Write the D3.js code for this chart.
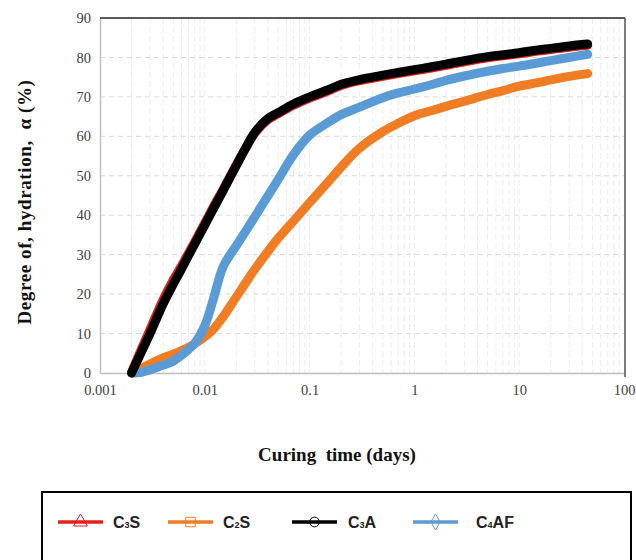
<!DOCTYPE html>
<html>
<head>
<meta charset="utf-8">
<script src="https://cdn.jsdelivr.net/npm/d3@7"></script>
<style>
  html, body { margin: 0; padding: 0; background: #fff; }
  svg { display: block; }
</style>
</head>
<body>
<svg id="chart" width="636" height="560"></svg>
<script>
// Curing time (days) at which the degree of hydration was evaluated
const times = [0.002, 0.0025, 0.003, 0.004, 0.005, 0.006, 0.007, 0.008, 0.01, 0.012,
  0.015, 0.02, 0.025, 0.03, 0.04, 0.05, 0.07, 0.1, 0.15, 0.2,
  0.3, 0.5, 0.7, 1, 1.5, 2, 3, 5, 7, 10,
  15, 20, 30, 45];

// Degree of hydration (%) of each clinker phase
const c3s = [0.2, 6.2, 11, 18.6, 23.6, 27.2, 30.4, 33.2, 38, 42,
  46.6, 52.8, 57.4, 60.8, 64.2, 65.7, 67.9, 69.7, 71.5, 72.9,
  74.1, 75.2, 75.9, 76.6, 77.4, 78, 78.9, 79.9, 80.4, 80.9,
  81.6, 82, 82.6, 83.1];
const c2s = [0, 1.2, 2.3, 3.8, 4.8, 5.7, 6.5, 7.4, 9.2, 11,
  14.3, 19.3, 23.2, 26.3, 30.8, 34.1, 38.5, 43.2, 48.4, 52.2,
  57, 61.2, 63.3, 65.2, 66.6, 67.6, 68.9, 70.6, 71.6, 72.7,
  73.6, 74.3, 75.2, 75.9];
const c3a = [0, 5.5, 10, 17.5, 22.5, 26.4, 29.8, 32.7, 37.5, 41.5,
  46.3, 52.6, 57.4, 61, 64.5, 66, 68.2, 70, 71.8, 73.2,
  74.4, 75.5, 76.2, 76.9, 77.7, 78.3, 79.2, 80.2, 80.7, 81.2,
  81.9, 82.3, 82.9, 83.4];
const c4af = [0, 0.2, 0.8, 2, 3, 4.5, 6, 7.5, 12, 18.5,
  27, 32.3, 36.3, 39.6, 44.9, 49, 55.3, 60.3, 63.5, 65.5,
  67.4, 69.8, 71, 72, 73.2, 74.2, 75.3, 76.5, 77.2, 77.8,
  78.6, 79.2, 80, 80.8];

// Series names and colours (legend order)
const seriesNames = ["C3S", "C2S", "C3A", "C4AF"];
const seriesColors = ["#e3211c", "#f07d24", "#000000", "#5b9bd5"];
const seriesMarkers = ["triangle", "square", "circle", "diamond"];

// Axis ticks
const xTicks = [0.001, 0.01, 0.1, 1, 10, 100];
const xTickLabels = ["0.001", "0.01", "0.1", "1", "10", "100"];
const yTicks = [0, 10, 20, 30, 40, 50, 60, 70, 80, 90];

const svg = d3.select("#chart");
const plot = { left: 100, right: 624, top: 18, bottom: 373 };

const x = d3.scaleLog().domain([0.001, 100]).range([plot.left, plot.right]);
const y = d3.scaleLinear().domain([0, 90]).range([plot.bottom, plot.top]);

// Vertical grid at every log tick (minor and major)
const gridX = x.ticks(50).filter(t => t > 0.001 && t < 100);
svg.append("g")
  .selectAll("line")
  .data(gridX)
  .join("line")
  .attr("x1", d => x(d)).attr("x2", d => x(d))
  .attr("y1", plot.top).attr("y2", plot.bottom)
  .attr("stroke", "#ededed")
  .attr("stroke-width", 1)
  .attr("stroke-dasharray", "6,3");

// Horizontal grid
svg.append("g")
  .selectAll("line")
  .data(yTicks.filter(t => t > 0 && t < 90))
  .join("line")
  .attr("x1", plot.left).attr("x2", plot.right)
  .attr("y1", d => y(d)).attr("y2", d => y(d))
  .attr("stroke", "#d9d9d9")
  .attr("stroke-width", 1)
  .attr("stroke-dasharray", "5,4");

// Axes
const xAxis = d3.axisBottom(x).tickValues(xTicks)
  .tickFormat((d, i) => xTickLabels[i]).tickSize(0).tickPadding(12);
const gx = svg.append("g").attr("transform", `translate(0,${plot.bottom})`).call(xAxis);
gx.select(".domain").attr("stroke", "#bfbfbf").attr("stroke-width", 1.5);
gx.selectAll("text")
  .attr("font-family", "'Liberation Serif', serif")
  .attr("font-size", 14.5)
  .attr("fill", "#404040");

const yAxis = d3.axisLeft(y).tickValues(yTicks).tickSize(0).tickPadding(9);
const gy = svg.append("g").attr("transform", `translate(${plot.left},0)`).call(yAxis);
gy.select(".domain").attr("stroke", "#bfbfbf").attr("stroke-width", 1.5);
gy.selectAll("text")
  .attr("font-family", "'Liberation Serif', serif")
  .attr("font-size", 14.5)
  .attr("fill", "#404040");

// Plot-area frame: top and right edges
svg.append("line")
  .attr("x1", plot.left).attr("x2", plot.right + 1)
  .attr("y1", plot.top).attr("y2", plot.top)
  .attr("stroke", "#222").attr("stroke-width", 1.6);
svg.append("line")
  .attr("x1", plot.right + 1).attr("x2", plot.right + 1)
  .attr("y1", plot.top).attr("y2", plot.bottom + 4)
  .attr("stroke", "#444").attr("stroke-width", 1.4);

// Curves
const allSeries = [c3s, c2s, c3a, c4af];
const drawOrder = [0, 1, 3, 2];
const line = d3.line()
  .x((d, i) => x(times[i]))
  .y(d => y(d))
  .curve(d3.curveCatmullRom.alpha(0.5));

const curves = svg.append("g");
drawOrder.forEach(k => {
  curves.append("path")
    .datum(allSeries[k])
    .attr("d", line)
    .attr("fill", "none")
    .attr("stroke", seriesColors[k])
    .attr("stroke-width", 9)
    .attr("stroke-linecap", "round")
    .attr("stroke-linejoin", "round");
});

// Axis titles
svg.append("text")
  .attr("x", 337).attr("y", 461)
  .attr("text-anchor", "middle")
  .attr("font-family", "'Liberation Serif', serif")
  .attr("font-weight", "bold")
  .attr("font-size", 19)
  .attr("fill", "#111")
  .attr("xml:space", "preserve")
  .text("Curing  time (days)");

svg.append("text")
  .attr("transform", "translate(31,202) rotate(-90)")
  .attr("text-anchor", "middle")
  .attr("font-family", "'Liberation Serif', serif")
  .attr("font-weight", "bold")
  .attr("font-size", 19)
  .attr("letter-spacing", 0.6)
  .attr("fill", "#111")
  .attr("xml:space", "preserve")
  .text("Degree of, hydration,  α (%)");

// Legend
const legend = svg.append("g");
legend.append("rect")
  .attr("x", 42).attr("y", 492)
  .attr("width", 589).attr("height", 90)
  .attr("fill", "#fff")
  .attr("stroke", "#000")
  .attr("stroke-width", 2);

const legendLineX = [58, 168, 292, 413];
const legendTextX = [113, 223, 348, 476];
const legendY = 522;
const symbol = {
  triangle: d3.symbol().type(d3.symbolTriangle).size(85),
  square: d3.symbol().type(d3.symbolSquare).size(90),
  circle: d3.symbol().type(d3.symbolCircle).size(75),
  diamond: d3.symbol().type(d3.symbolDiamond).size(75)
};

seriesNames.forEach((name, i) => {
  const g = legend.append("g");
  g.append("line")
    .attr("x1", legendLineX[i]).attr("x2", legendLineX[i] + 45)
    .attr("y1", legendY).attr("y2", legendY)
    .attr("stroke", seriesColors[i])
    .attr("stroke-width", 3.5);
  g.append("path")
    .attr("d", symbol[seriesMarkers[i]]())
    .attr("transform", `translate(${legendLineX[i] + 22.5},${legendY})`)
    .attr("fill", "none")
    .attr("stroke", seriesColors[i])
    .attr("stroke-width", 1);
  const t = g.append("text")
    .attr("x", legendTextX[i]).attr("y", legendY + 6)
    .attr("font-family", "'Liberation Sans', Arial, sans-serif")
    .attr("font-weight", "bold")
    .attr("font-size", 16)
    .attr("fill", "#222");
  // Chemical shorthand: digits are written small
  name.split(/(\d)/).filter(s => s.length).forEach(part => {
    if (/\d/.test(part)) {
      t.append("tspan").attr("font-size", 9).text(part);
    } else {
      t.append("tspan").text(part);
    }
  });
});
</script>
</body>
</html>
